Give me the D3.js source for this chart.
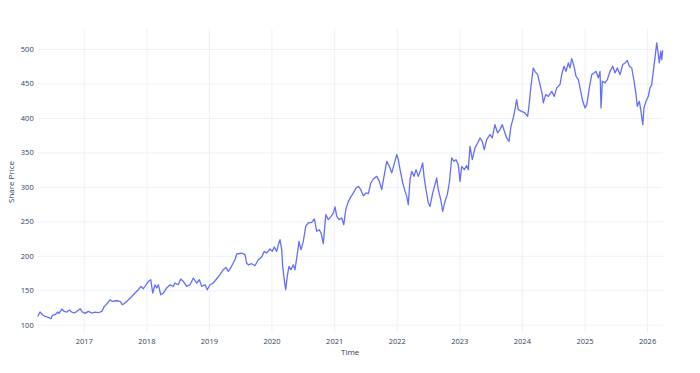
<!DOCTYPE html>
<html><head><meta charset="utf-8">
<script src="https://cdn.jsdelivr.net/npm/d3@7"></script>
<style>body{margin:0;background:#fff}svg{display:block}text{font-family:"Open Sans","Noto Sans",sans-serif}</style>
</head><body><svg id="c" width="700" height="373"></svg>
<script>
// time as decimal years
const times = [2016.265,2016.302,2016.339,2016.382,2016.435,2016.478,2016.498,2016.542,2016.585,2016.605,2016.649,2016.690,2016.728,2016.770,2016.808,2016.850,2016.888,2016.941,2016.978,2017.021,2017.073,2017.128,2017.181,2017.233,2017.288,2017.329,2017.367,2017.420,2017.457,2017.527,2017.580,2017.617,2017.660,2017.712,2017.767,2017.819,2017.872,2017.915,2017.952,
2018.032,2018.070,2018.102,2018.139,2018.166,2018.192,2018.230,2018.272,2018.326,2018.379,2018.431,2018.458,2018.511,2018.549,2018.591,2018.645,2018.698,2018.751,2018.805,2018.847,2018.885,2018.938,2018.974,2019.018,2019.070,2019.134,2019.177,2019.230,2019.273,2019.310,2019.348,2019.380,2019.417,2019.444,2019.524,2019.577,2019.604,
2019.629,2019.684,2019.736,2019.789,2019.843,2019.885,2019.923,2019.976,2020.013,2020.045,2020.083,2020.109,2020.136,2020.163,2020.179,2020.204,2020.227,2020.252,2020.279,2020.311,2020.348,2020.375,2020.418,2020.439,2020.471,2020.508,2020.546,2020.588,2020.642,2020.684,2020.722,2020.759,2020.791,2020.827,2020.866,2020.907,2020.950,2020.987,2021.014,2021.041,2021.078,2021.121,2021.153,2021.185,2021.227,2021.270,2021.307,
2021.350,2021.387,2021.425,2021.466,2021.509,2021.546,2021.585,2021.626,2021.680,2021.722,2021.760,2021.797,2021.840,2021.882,2021.920,2021.957,2022.000,2022.025,2022.053,2022.096,2022.133,2022.160,2022.185,2022.212,2022.240,2022.276,2022.308,2022.345,2022.383,2022.415,2022.436,2022.468,2022.505,2022.532,2022.575,2022.612,2022.639,2022.664,2022.703,2022.735,2022.771,2022.808,2022.840,2022.879,2022.915,2022.947,2022.984,
2023.011,2023.038,2023.080,2023.118,2023.144,2023.171,2023.208,2023.251,2023.294,2023.331,2023.367,2023.399,2023.438,2023.490,2023.527,2023.570,2023.613,2023.650,2023.687,2023.730,2023.757,2023.794,2023.826,2023.863,2023.890,2023.917,2023.942,2023.997,2024.049,2024.093,2024.113,2024.145,2024.182,2024.209,2024.252,2024.289,2024.326,2024.342,2024.380,2024.422,2024.476,2024.517,2024.556,2024.608,
2024.636,2024.672,2024.704,2024.741,2024.768,2024.795,2024.832,2024.864,2024.901,2024.939,2024.971,2025.008,2025.035,2025.076,2025.115,2025.151,2025.183,2025.220,2025.247,2025.263,2025.284,2025.327,2025.364,2025.407,2025.450,2025.487,2025.524,2025.567,2025.610,2025.647,2025.684,2025.716,2025.754,2025.791,2025.823,2025.843,2025.875,2025.898,2025.930,2025.950,2025.982,2026.019,2026.046,2026.073,2026.099,2026.126,2026.153,2026.179,2026.195,2026.217,2026.233,2026.249];
const prices = [112,118.4,114.5,112,110.6,108.7,113.5,114.5,118.4,116.4,122.8,119.3,118.4,121.3,118.4,117,119.3,123.2,118.4,116.4,119.3,117,118.4,117.4,119.3,126.6,130,136.3,133.8,134.8,133.8,129,131.5,136.3,141,146,150.8,155.6,152.2,
162.8,165.3,146,158,153.3,158,143.5,146,153.3,158,155.6,160.5,158,166.3,162.8,155.6,158,167.8,160.5,165.3,155.6,158,150.8,158,160.5,167.8,172.6,179.8,183.2,177.4,182.3,188.1,194.3,202.6,204,201.6,189.5,
187,188.5,185.6,194.3,198.3,206.4,204,209.9,206.4,212.8,206.4,216.1,223.4,208.9,184.6,165.3,150.8,170.1,184.6,179.8,187,179.8,206.4,220.9,208.9,220.9,242.7,247.6,248.5,253.4,235.5,237.9,233.1,217.6,259.7,252.4,257.2,262.1,270.8,257.2,252.4,254.9,245.1,266.9,279,286.2,291.2,
298.4,300.7,295.9,287.2,291.2,290.1,305.6,311.4,315.2,308,295.9,315.2,337,329.7,320.2,332.2,346.7,339.5,325,305.6,293.5,286.2,274.2,310.4,322.5,315.2,325,315.2,325,334.7,315.2,295.9,276.6,271.7,291.2,303.2,312.9,295.9,281.4,264.4,279,288.7,305.6,341.9,337,339.5,332.2,
308,329.8,325,330.8,325,358.8,339.5,356.5,363.7,371,366,354,368.5,375.8,371,390.3,378.2,383,390.3,378.2,371,366,387.8,400,412,426.6,412,409.6,407.3,402.4,416.8,445.9,472.5,467.6,462.8,448.3,433.8,421.8,433.8,431.3,438.6,431.3,443.5,448.3,
462.8,474.9,467.6,479.8,472.5,486,474.9,460.4,455.6,438.6,424.1,414.5,419.3,443.5,462.8,465.3,467.6,458,467.6,414.5,453.2,450.8,455.6,467.6,474.9,465.3,472.5,462.8,477.4,479.8,483.2,474.9,472.5,453.2,433.8,416.8,424.1,412,390.3,414.5,424.1,431.3,443.5,448.3,467.6,487,508.8,491.8,479.8,496.7,484.6,497.9];
const yTicks = [100,150,200,250,300,350,400,450,500];
const xTickYears = [2017,2018,2019,2020,2021,2022,2023,2024,2025,2026];
const xTitle = "Time", yTitle = "Share Price";

function toDate(dy){const yr=Math.floor(dy),a=Date.UTC(yr,0,1),b=Date.UTC(yr+1,0,1);return new Date(a+(dy-yr)*(b-a));}
const data = times.map((t,i)=>({t:toDate(t), v:prices[i]}));
const svg = d3.select("#c");
const L=37.7, R=662.7, T=29, B=333;
const x = d3.scaleUtc().domain(d3.extent(data,d=>d.t)).range([L,R]);
const y = d3.scaleLinear().domain([88,529]).range([B,T]);
const grid="#edf1f8", tc="#2a3f5f";

const xg = svg.append("g").attr("transform",`translate(0,${B})`)
  .call(d3.axisBottom(x).tickValues(xTickYears.map(yr=>new Date(Date.UTC(yr,0,1)))).tickFormat(d3.utcFormat("%Y")).tickSize(-(B-T)).tickPadding(6));
xg.select(".domain").remove();
xg.selectAll("line").attr("stroke",grid);
xg.selectAll("text").attr("fill",tc).attr("font-size",7.5);

const yg = svg.append("g").attr("transform",`translate(${L},0)`)
  .call(d3.axisLeft(y).tickValues(yTicks).tickSize(-(R-L)).tickPadding(4));
yg.select(".domain").remove();
yg.selectAll("line").attr("stroke",grid);
yg.selectAll("text").attr("fill",tc).attr("font-size",7.5);

svg.append("path").datum(data).attr("fill","none").attr("stroke","#636efa").attr("stroke-width",1.3)
  .attr("stroke-linejoin","round").attr("d",d3.line().x(d=>x(d.t)).y(d=>y(d.v)));

svg.append("text").attr("x",(L+R)/2).attr("y",355).attr("text-anchor","middle").attr("fill",tc).attr("font-size",8).text(xTitle);
svg.append("text").attr("transform","translate(14,182) rotate(-90)").attr("text-anchor","middle").attr("fill",tc).attr("font-size",8).text(yTitle);
</script></body></html>
